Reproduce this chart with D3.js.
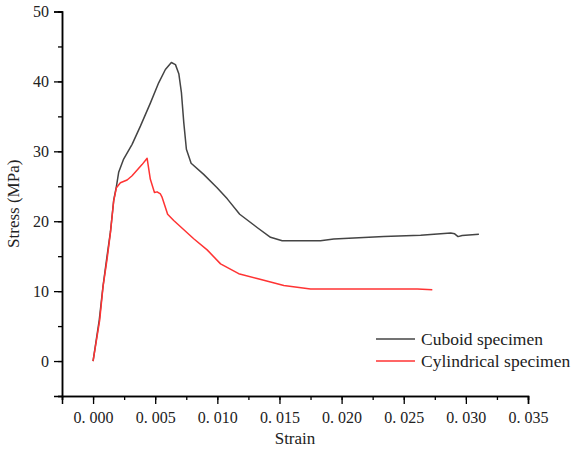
<!DOCTYPE html>
<html>
<head>
<meta charset="utf-8">
<script src="https://cdn.jsdelivr.net/npm/d3@7"></script>
<style>
  body { margin: 0; background: #fff; }
  text { font-family: "Liberation Serif", "DejaVu Serif", serif; fill: #222; }
</style>
</head>
<body>
<svg id="chart"></svg>
<script>
// strain / stress values
const cuboidStrain = [0, 0.0005, 0.0008, 0.0011, 0.0014, 0.00166, 0.00188, 0.00206, 0.00246, 0.00314, 0.00381, 0.00461, 0.00528, 0.00582, 0.0063, 0.00663, 0.0069, 0.00711, 0.0073, 0.00751, 0.00789, 0.0089, 0.00998, 0.0108, 0.0118, 0.0132, 0.01428, 0.01522, 0.0183, 0.01937, 0.0234, 0.02636, 0.02878, 0.0291, 0.02937, 0.0297, 0.03105];
const cuboidStress = [0, 5.9, 10.7, 14.7, 18.5, 23.0, 25.0, 27.0, 28.9, 31.0, 33.6, 36.9, 39.8, 41.7, 42.7, 42.4, 41.1, 38.4, 34.1, 30.3, 28.3, 26.7, 24.8, 23.2, 21.0, 19.1, 17.7, 17.2, 17.2, 17.45, 17.8, 18.0, 18.3, 18.2, 17.8, 17.95, 18.15];

const cylStrain = [0, 0.00053, 0.0008, 0.00113, 0.0014, 0.00166, 0.00188, 0.0022, 0.00274, 0.00314, 0.00394, 0.00435, 0.00461, 0.00494, 0.00515, 0.00542, 0.00556, 0.006, 0.00649, 0.0081, 0.00918, 0.01026, 0.01172, 0.0132, 0.01428, 0.01535, 0.0175, 0.0261, 0.0273];
const cylStress = [0, 5.8, 10.6, 14.6, 18.4, 22.9, 24.8, 25.5, 25.9, 26.5, 28.1, 29.0, 26.0, 24.1, 24.2, 23.9, 23.4, 21.0, 20.1, 17.5, 15.9, 13.9, 12.5, 11.8, 11.3, 10.8, 10.3, 10.3, 10.2];

const xTicks = [0, 0.005, 0.01, 0.015, 0.02, 0.025, 0.03, 0.035];
const yTicks = [0, 10, 20, 30, 40, 50];
const seriesNames = ["Cuboid specimen", "Cylindrical specimen"];
const seriesColors = ["#444444", "#ff3333"];

const W = 576, H = 453;
const svg = d3.select("#chart").attr("width", W).attr("height", H);

const x = d3.scaleLinear().domain([-0.0025, 0.035]).range([62, 528]);
const y = d3.scaleLinear().domain([-5, 50]).range([396, 11.5]);

const fmtX = d => d3.format(".3f")(d).replace(".", ". ");

// x axis with minor ticks
const xAxisG = svg.append("g").attr("transform", `translate(0,${y(-5)})`);
xAxisG.call(d3.axisBottom(x).tickValues(d3.range(-0.0025, 0.0351, 0.0025)).tickSize(4).tickFormat(""));
xAxisG.append("g").call(d3.axisBottom(x).tickValues(xTicks).tickSize(8).tickPadding(4).tickFormat(fmtX));
xAxisG.selectAll(".domain").attr("stroke", "#000").attr("stroke-width", 1.5);
xAxisG.selectAll(".tick line").attr("stroke", "#000").attr("stroke-width", 1.3);
xAxisG.selectAll("text").attr("font-size", 16).attr("dy", "0.95em").style("font-family", "Liberation Serif").attr("fill", "#222");

// y axis with minor ticks
const yAxisG = svg.append("g").attr("transform", `translate(${x(-0.0025)},0)`);
yAxisG.call(d3.axisLeft(y).tickValues(d3.range(-5, 50.1, 5)).tickSize(4).tickFormat(""));
yAxisG.append("g").call(d3.axisLeft(y).tickValues(yTicks).tickSize(8).tickPadding(5));
yAxisG.selectAll(".domain").attr("stroke", "#000").attr("stroke-width", 1.5);
yAxisG.selectAll(".tick line").attr("stroke", "#000").attr("stroke-width", 1.3);
yAxisG.selectAll("text").attr("font-size", 16).style("font-family", "Liberation Serif").attr("fill", "#222");

// axis titles
svg.append("text")
    .attr("x", x(0.01625)).attr("y", 444)
    .attr("text-anchor", "middle")
    .attr("font-size", 17)
    .text("Strain");

svg.append("text")
    .attr("transform", `translate(19,${y(22.5)}) rotate(-90)`)
    .attr("text-anchor", "middle")
    .attr("font-size", 17)
    .text("Stress (MPa)");

const line = d3.line().x(d => x(d[0])).y(d => y(d[1]));
const series = [
    d3.zip(cuboidStrain, cuboidStress),
    d3.zip(cylStrain, cylStress)
];

series.forEach((s, i) => {
    svg.append("path")
        .datum(s)
        .attr("fill", "none")
        .attr("stroke", seriesColors[i])
        .attr("stroke-width", 1.5)
        .attr("stroke-linejoin", "round")
        .attr("d", line);
});

// legend
const legend = svg.append("g");
seriesNames.forEach((name, i) => {
    const ly = 339 + i * 22;
    legend.append("line")
        .attr("x1", 376).attr("x2", 415)
        .attr("y1", ly).attr("y2", ly)
        .attr("stroke", seriesColors[i]).attr("stroke-width", 1.5);
    legend.append("text")
        .attr("x", 421).attr("y", ly + 5.5)
        .attr("font-size", 17.5)
        .attr("fill", "#111")
        .text(name);
});
</script>
</body>
</html>
